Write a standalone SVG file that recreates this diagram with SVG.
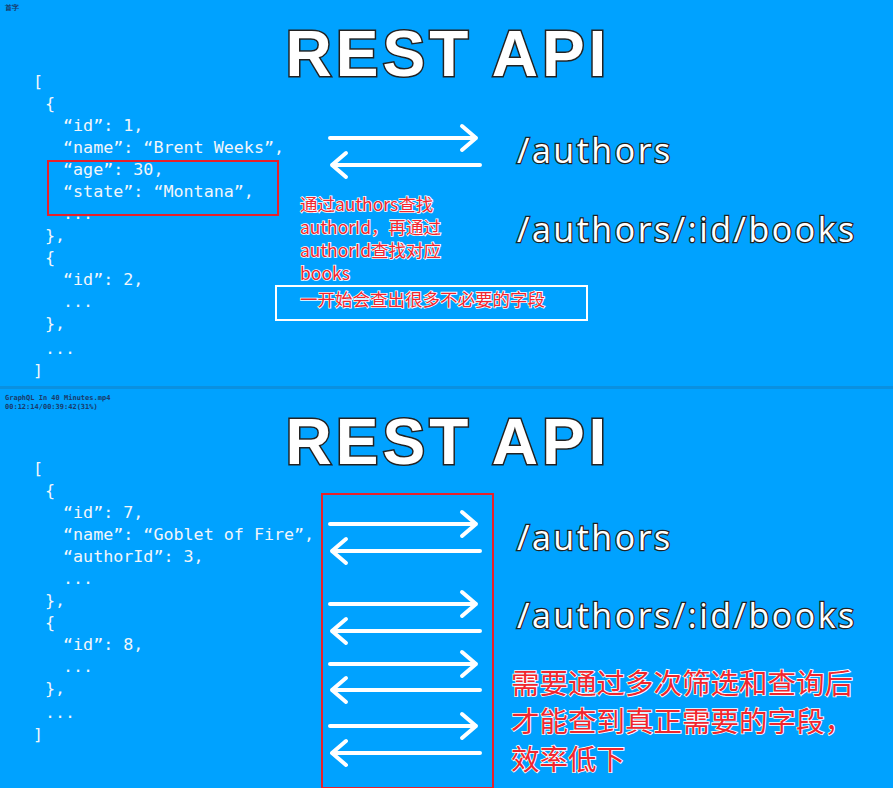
<svg xmlns="http://www.w3.org/2000/svg" width="893" height="788" viewBox="0 0 893 788">
<style>
.code{font-family:"DejaVu Sans Mono","Liberation Mono",monospace;font-size:16.7px;fill:#f2f6fa}
.title{font-family:"Liberation Sans",Arial,sans-serif;font-weight:bold;font-size:64px;fill:#fff;stroke:#222;stroke-width:3;paint-order:stroke;letter-spacing:4px}
.ep{font-family:"Open Sans","Liberation Sans",sans-serif;font-size:34px;fill:#fff;stroke:#222;stroke-width:2.5;paint-order:stroke;letter-spacing:2.5px}
.note{font-family:"Noto Sans CJK SC",sans-serif;fill:#f0262e;stroke:#fff;stroke-width:1.6;paint-order:stroke}
.arr{stroke:#fff;stroke-width:4;fill:none;stroke-linecap:round;stroke-linejoin:round}
.small{font-family:"DejaVu Sans Mono",monospace;font-size:7px;fill:#1a3a6a;font-weight:bold}
</style>
<rect width="893" height="788" fill="#00a2ff"/>
<rect x="0" y="386" width="893" height="3" fill="#0a90e0"/>
<text class="small" x="5" y="10">首字</text>
<text class="small" x="5" y="400">GraphQL In 40 Minutes.mp4</text>
<text class="small" x="5" y="409">00:12:14/00:39:42(31%)</text>
<g id="top">
<text class="title" x="448" y="76" text-anchor="middle">REST API</text>
<g class="code">
<text x="33" y="87">[</text>
<text x="45" y="109">{</text>
<text x="63" y="131">“id”: 1,</text>
<text x="63" y="153">“name”: “Brent Weeks”,</text>
<text x="63" y="175">“age”: 30,</text>
<text x="63" y="197">“state”: “Montana”,</text>
<text x="63" y="219">...</text>
<text x="45" y="241">},</text>
<text x="45" y="263">{</text>
<text x="63" y="285">“id”: 2,</text>
<text x="63" y="307">...</text>
<text x="45" y="329">},</text>
<text x="45" y="354">...</text>
<text x="33" y="376">]</text>
</g>
<rect x="48" y="161" width="230" height="54" fill="none" stroke="#e8202a" stroke-width="2"/>
<rect x="276" y="286" width="311" height="34" fill="none" stroke="#fff" stroke-width="2"/>
<text class="ep" x="517" y="163">/authors</text>
<text class="ep" x="517" y="242">/authors/:id/books</text>
<g class="note" font-size="17.5">
<text x="300" y="211">通过authors查找</text>
<text x="300" y="234">authorId，再通过</text>
<text x="300" y="257">authorId查找对应</text>
<text x="300" y="280">books</text>
<text x="300" y="306">一开始会查出很多不必要的字段</text>
</g>
</g>
<g id="bottom">
<text class="title" x="448" y="464" text-anchor="middle">REST API</text>
<g class="code">
<text x="33" y="474">[</text>
<text x="45" y="496">{</text>
<text x="63" y="518">“id”: 7,</text>
<text x="63" y="540">“name”: “Goblet of Fire”,</text>
<text x="63" y="562">“authorId”: 3,</text>
<text x="63" y="584">...</text>
<text x="45" y="606">},</text>
<text x="45" y="628">{</text>
<text x="63" y="650">“id”: 8,</text>
<text x="63" y="672">...</text>
<text x="45" y="694">},</text>
<text x="45" y="718">...</text>
<text x="33" y="740">]</text>
</g>
<rect x="322" y="494" width="171" height="294" fill="none" stroke="#e8202a" stroke-width="2"/>
<text class="ep" x="517" y="550">/authors</text>
<text class="ep" x="517" y="628">/authors/:id/books</text>
<g class="note" font-size="28.5" stroke-width="2">
<text x="511" y="694">需要通过多次筛选和查询后</text>
<text x="511" y="732">才能查到真正需要的字段，</text>
<text x="511" y="770">效率低下</text>
</g>
</g>
<g id="connectors" class="arr">
<path d="M330 138H476M462 126L476 138L462 150"/>
<path d="M480 165H332M346 153L332 165L346 177"/>
<path d="M330 524H476M462 512L476 524L462 536"/>
<path d="M480 551H332M346 539L332 551L346 563"/>
<path d="M330 604H476M462 592L476 604L462 616"/>
<path d="M480 631H332M346 619L332 631L346 643"/>
<path d="M330 664H476M462 652L476 664L462 676"/>
<path d="M480 690H332M346 678L332 690L346 702"/>
<path d="M330 726H476M462 714L476 726L462 738"/>
<path d="M480 753H332M346 741L332 753L346 765"/>
</g>
</svg>
